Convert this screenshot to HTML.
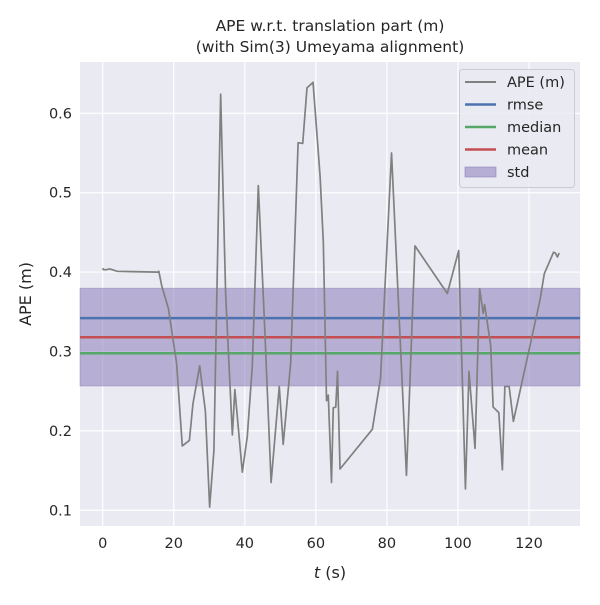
<!DOCTYPE html>
<html><head><meta charset="utf-8"><style>
body{margin:0;background:#fff;}
svg text{font-family:"DejaVu Sans","Liberation Sans",sans-serif;fill:#262626;}
</style></head><body>
<svg id="chart" width="600" height="600" xmlns="http://www.w3.org/2000/svg">
<rect x="0" y="0" width="600" height="600" fill="#fff"/>
<rect x="80" y="62" width="500" height="464" fill="#eaeaf2"/>
<g id="grid"></g>
<g id="bands"></g>
<g id="series"></g>
<g id="ticks"></g>
<text x="330" y="31" font-size="15.5" text-anchor="middle">APE w.r.t. translation part (m)</text>
<text x="330" y="52" font-size="15.5" text-anchor="middle">(with Sim(3) Umeyama alignment)</text>
<text transform="translate(31,294) rotate(-90)" font-size="16" text-anchor="middle">APE (m)</text>
<text x="330" y="578" font-size="16" text-anchor="middle"><tspan font-style="italic">t</tspan> (s)</text>
<g>
<rect x="459.5" y="69.5" width="115" height="118" rx="3" fill="#eaeaf2" fill-opacity="0.8" stroke="#cccccc"/>
<line x1="465" x2="496" y1="82" y2="82" stroke="#808080" stroke-width="2"/>
<text x="507" y="87" font-size="14.5">APE (m)</text>
<line x1="465" x2="496" y1="104.5" y2="104.5" stroke="#4c72b0" stroke-width="2.5"/>
<text x="507" y="109.5" font-size="14.5">rmse</text>
<line x1="465" x2="496" y1="127" y2="127" stroke="#55a868" stroke-width="2.5"/>
<text x="507" y="132" font-size="14.5">median</text>
<line x1="465" x2="496" y1="149.5" y2="149.5" stroke="#c44e52" stroke-width="2.5"/>
<text x="507" y="154.5" font-size="14.5">mean</text>
<rect x="465" y="167" width="31" height="10" fill="#8172b3" fill-opacity="0.5" stroke="#8172b3" stroke-opacity="0.5"/>
<text x="507" y="177" font-size="14.5">std</text>
</g>
</svg>
<script>
const times=[0,0.2,1,2,4.1,15.6,15.8,16.6,18.5,20.8,22.4,24.4,25.4,27.3,28.9,30.1,31.3,33.2,34.6,36.5,37.2,39.3,40.7,42.1,43.8,45.6,47.4,49.7,50.8,52.9,55.0,56.3,57.5,59.2,60.5,61.2,62.1,63.0,63.5,64.4,64.9,65.6,66.1,66.8,75.9,78.2,81.3,85.5,87.9,97.0,100.2,102.1,103.1,104.8,106.1,107.1,107.5,109.2,109.9,111.5,112.5,113.2,114.4,115.6,123.1,124.3,126.9,127.4,128.0,128.5];
const apeValues=[0.405,0.403,0.403,0.404,0.401,0.400,0.401,0.383,0.354,0.285,0.181,0.188,0.234,0.282,0.225,0.104,0.175,0.624,0.373,0.195,0.252,0.148,0.193,0.281,0.509,0.330,0.135,0.256,0.183,0.285,0.563,0.562,0.632,0.639,0.562,0.520,0.438,0.238,0.245,0.135,0.229,0.230,0.275,0.152,0.202,0.266,0.550,0.144,0.433,0.373,0.427,0.127,0.275,0.178,0.379,0.348,0.359,0.308,0.230,0.223,0.151,0.256,0.256,0.212,0.365,0.398,0.425,0.424,0.419,0.424];
const statRmse=0.342;
const statMean=0.318;
const statMedian=0.2977;
const statStdLow=0.2566;
const statStdHigh=0.3796;
const xTicks=[0,20,40,60,80,100,120];
const yTicks=[0.1,0.2,0.3,0.4,0.5,0.6];

const NS="http://www.w3.org/2000/svg";
const X0=80,X1=580,Y0=62,Y1=526,xmin=-6.39,xmax=134.35,ymin=0.0802,ymax=0.6646;
function sx(t){return X0+(t-xmin)/(xmax-xmin)*(X1-X0);}
function sy(v){return Y1-(v-ymin)/(ymax-ymin)*(Y1-Y0);}
function mk(tag,attrs,parent){const e=document.createElementNS(NS,tag);for(const k in attrs)e.setAttribute(k,attrs[k]);document.getElementById(parent).appendChild(e);return e;}

xTicks.forEach(t=>{
  const g=mk('line',{x1:sx(t),x2:sx(t),y1:Y0,y2:Y1,stroke:'#fff','stroke-width':1.2},'grid');
  
  
  const l=mk('text',{x:sx(t),y:Y1+22,'font-size':14.5,'text-anchor':'middle'},'ticks');
  l.textContent=t;
  
  
});
yTicks.forEach(v=>{
  const g=mk('line',{x1:X0,x2:X1,y1:sy(v),y2:sy(v),stroke:'#fff','stroke-width':1.2},'grid');
  
  
  const l=mk('text',{x:X0-8,y:sy(v)+5,'font-size':14.5,'text-anchor':'end'},'ticks');
  l.textContent=v.toFixed(1);
  
  
});
const band=mk('rect',{x:X0,width:X1-X0,y:sy(statStdHigh),height:sy(statStdLow)-sy(statStdHigh),fill:'#8172b3','fill-opacity':0.5,stroke:'#8172b3','stroke-opacity':0.4},'bands');


[[statRmse,'#4c72b0','rmse-line'],[statMedian,'#55a868','median-line'],[statMean,'#c44e52','mean-line']].forEach(s=>{
  const l=mk('line',{x1:X0,x2:X1,y1:sy(s[0]),y2:sy(s[0]),stroke:s[1],'stroke-width':2.5},'bands');
  
  
});
const pts=times.map((t,i)=>sx(t).toFixed(2)+','+sy(apeValues[i]).toFixed(2)).join(' ');
const pl=mk('polyline',{points:pts,fill:'none',stroke:'#808080','stroke-width':1.7,'stroke-linejoin':'round'},'series');


</script>
</body></html>
